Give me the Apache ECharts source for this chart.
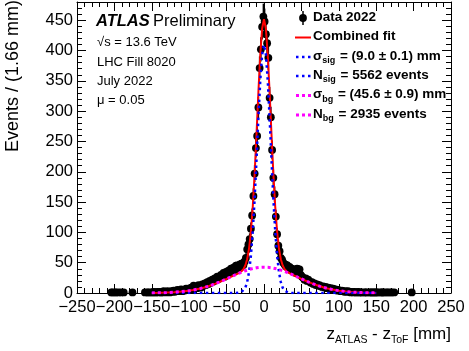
<!DOCTYPE html>
<html><head><meta charset="utf-8">
<script src="https://cdn.jsdelivr.net/npm/echarts@6/dist/echarts.min.js"></script>
<style>html,body{margin:0;padding:0;background:#fff}#c{width:469px;height:351px}</style>
</head><body><div id="c"></div>
<script>
// Histogram definition (300 bins of 1.66 mm from -250 to 250)
const binLow = -250;
const binWidth = 500 / 300;
const firstBin = 27;
// Events per bin, starting at bin index firstBin (null = empty bin, not drawn)
const dataCounts = [
  1,1,null,1,1,null,1,null,1,null,1,null,null,null,null,null,null,1,
  null,null,null,null,null,null,null,null,null,1,null,1,1,null,1,
  1,2,1,1,2,1,2,1,1,3,
  2,1,3,2,1,3,2,4,2,3,
  5,3,4,6,3,5,4,7,5,6,
  8,5,9,12,7,10,8,13,11,9,
  14,12,16,13,18,15,20,17,22,19,
  24,21,27,23,26,30,28,33,27,35,
  31,37,34,40,36,42,38,45,41,44,
  47,43,49,46,52,58,72,80,89,106,
  128,160,197,239,259,306,371,402,439,456,
  448,427,412,388,322,290,236,190,163,126,
  97,78,69,58,55,50,47,44,46,41,
  43,38,40,35,37,33,40,38,39,30,
  27,25,22,24,20,22,19,17,18,15,
  16,13,14,12,13,11,10,11,9,10,
  8,9,7,8,6,7,5,6,4,5,
  4,3,4,3,2,3,2,3,2,1,
  2,1,2,1,1,2,1,1,1,null,
  1,1,1,null,1,1,1,1,1,1,
  1,1,null,1,1,1,1,null,1,1,
  null,1,1,null,1,
  null,null,null,null,null,null,null,null,null,null,null,null,null,
  1
];
// Fit curves sampled (mm) and their heights (events / bin)
const fitX = [-150,-140,-130,-120,-110,-100,-95,-90,-85,-80,-75,-70,-65,-60,-55,-50,-45,-40,-37.5,-35,-32.5,-30,-27.5,-25,-22.5,-20,-17.5,-15,-12.5,-10,-7.5,-5,-2.5,0,
  2.5,5,7.5,10,12.5,15,17.5,20,22.5,25,27.5,30,32.5,35,37.5,40,45,50,55,60,65,70,75,80,85,90,95,100,110,120,130,140,150];
const fitTotal = [0.19,0.38,0.73,1.34,2.32,3.85,4.86,6.07,7.5,9.14,11.0,13.1,15.4,17.9,20.6,23.35,26.1,29.0,30.5,31.9,33.7,35.9,39.4,45.3,55.7,73.4,101.4,142.5,197.0,262.3,331.2,393.0,436.2,451.8,
  436.2,393.0,331.2,262.3,197.0,142.5,101.4,73.4,55.7,45.3,39.4,35.9,33.7,31.9,30.5,29.0,26.1,23.35,20.6,17.9,15.4,13.1,11.0,9.14,7.5,6.07,4.86,3.85,2.32,1.34,0.73,0.38,0.19];
const fitSig = [0,0,0,0,0,0,0,0,0,0,0,0,0,0,0,0,0,0.02,0.07,0.21,0.6,1.58,3.84,8.65,18.0,34.7,61.8,102.1,156.0,220.7,289.2,350.7,393.7,409.2,
  393.7,350.7,289.2,220.7,156.0,102.1,61.8,34.7,18.0,8.65,3.84,1.58,0.6,0.21,0.07,0.02,0,0,0,0,0,0,0,0,0,0,0,0,0,0,0,0,0];
const fitBg = [0.19,0.38,0.73,1.34,2.32,3.85,4.86,6.07,7.5,9.14,11.0,13.1,15.4,17.9,20.6,23.35,26.1,29.0,30.38,31.73,33.06,34.32,35.52,36.66,37.72,38.69,39.58,40.36,41.03,41.59,42.03,42.34,42.54,42.6,
  42.54,42.34,42.03,41.59,41.03,40.36,39.58,38.69,37.72,36.66,35.52,34.32,33.06,31.73,30.38,29.0,26.1,23.35,20.6,17.9,15.4,13.1,11.0,9.14,7.5,6.07,4.86,3.85,2.32,1.34,0.73,0.38,0.19];
// Axis ranges
const xMin = -250, xMax = 250, xStep = 50;
const yMin = 0, yMax = 480, yStep = 50;

const FONT = '"Liberation Sans", Arial, Helvetica, sans-serif';
const dataPoints = [];
dataCounts.forEach((n, k) => {
  if (n !== null) dataPoints.push([binLow + (firstBin + k + 0.5) * binWidth, n, Math.sqrt(n)]);
});
const pair = (xs, ys) => xs.map((x, i) => [x, ys[i]]);

const chart = echarts.init(document.getElementById('c'), null, {renderer: 'canvas'});
const tickCommon = {
  axisLine: {show: true, onZero: false, lineStyle: {color: '#000', width: 1}},
  axisTick: {show: true, inside: true, length: 9, lineStyle: {color: '#000', width: 1}},
  minorTick: {show: true, splitNumber: 5, length: 5, lineStyle: {color: '#000', width: 1}},
  splitLine: {show: false}, minorSplitLine: {show: false}
};
const minus = v => String(v).replace('-', '\u2212');
const subRich = (size, bold) => ({
  m: {fontFamily: FONT, fontSize: size, fontWeight: bold ? 'bold' : 'normal', fill: '#000', verticalAlign: 'top', lineHeight: size + 3},
  s: {fontFamily: FONT, fontSize: Math.round(size * 0.7), fontWeight: bold ? 'bold' : 'normal', fill: '#000', verticalAlign: 'bottom', lineHeight: 9, padding: [0, 1, 0, 0]}
});
chart.setOption({
  animation: false,
  backgroundColor: '#fff',
  grid: {left: 77, right: 18, top: 2, bottom: 58, containLabel: false},
  xAxis: [
    Object.assign({type: 'value', min: xMin, max: xMax, interval: xStep, position: 'bottom',
      axisLabel: {show: true, color: '#000', fontSize: 16.5, fontFamily: FONT, margin: 6, formatter: minus}}, tickCommon),
    Object.assign({type: 'value', min: xMin, max: xMax, interval: xStep, position: 'top',
      axisLabel: {show: false}}, tickCommon)
  ],
  yAxis: [
    Object.assign({type: 'value', min: yMin, max: yMax, interval: yStep, position: 'left',
      axisLabel: {show: true, color: '#000', fontSize: 16.5, fontFamily: FONT, margin: 4,
        formatter: v => (v % 50 === 0 && v <= 450) ? String(v) : ''}}, tickCommon),
    Object.assign({type: 'value', min: yMin, max: yMax, interval: yStep, position: 'right',
      axisLabel: {show: false}}, tickCommon)
  ],
  series: [
    {
      type: 'custom', name: 'Data 2022', xAxisIndex: 0, yAxisIndex: 0, z: 2,
      data: dataPoints, encode: {x: 0, y: 1},
      renderItem: function (params, api) {
        const x = api.value(0), y = api.value(1), e = api.value(2);
        const p = api.coord([x, y]);
        const lo = api.coord([x, Math.max(0, y - e)]);
        const hi = api.coord([x, y + e]);
        return {type: 'group', children: [
          {type: 'line', shape: {x1: p[0], y1: lo[1], x2: p[0], y2: hi[1]}, style: {stroke: '#000', lineWidth: 1.5}},
          {type: 'circle', shape: {cx: p[0], cy: p[1], r: 3.9}, style: {fill: '#000'}}
        ]};
      }
    },
    {type: 'line', name: 'Combined fit', data: pair(fitX, fitTotal), showSymbol: false, z: 3,
      lineStyle: {color: '#ff0000', width: 2}, smooth: false},
    {type: 'line', name: 'sig', data: pair(fitX, fitSig), showSymbol: false, z: 4,
      lineStyle: {color: '#0000ff', width: 2.5, type: [2.5, 3.5]}},
    {type: 'line', name: 'bg', data: pair(fitX, fitBg), showSymbol: false, z: 5,
      lineStyle: {color: '#ff00ff', width: 3, type: [3, 3]}}
  ],
  graphic: [
    {type: 'text', left: 96, top: 13, style: {text: '{a|ATLAS} {b|Preliminary}', rich: {
      a: {fontFamily: FONT, fontSize: 16.5, fontWeight: 'bold', fontStyle: 'italic', fill: '#000'},
      b: {fontFamily: FONT, fontSize: 16.5, fill: '#000'}}}},
    {type: 'text', left: 97, top: 36, style: {text: '\u221As = 13.6 TeV', font: '13px ' + FONT, fill: '#000'}},
    {type: 'text', left: 97, top: 56, style: {text: 'LHC Fill 8020', font: '13px ' + FONT, fill: '#000'}},
    {type: 'text', left: 97, top: 75, style: {text: 'July 2022', font: '13px ' + FONT, fill: '#000'}},
    {type: 'text', left: 97, top: 94, style: {text: '\u03BC = 0.05', font: '13px ' + FONT, fill: '#000'}},
    // legend
    {type: 'line', shape: {x1: 303, y1: 11, x2: 303, y2: 25}, style: {stroke: '#000', lineWidth: 1.5}},
    {type: 'circle', shape: {cx: 303, cy: 18, r: 3.9}, style: {fill: '#000'}},
    {type: 'line', shape: {x1: 295, y1: 37.5, x2: 311, y2: 37.5}, style: {stroke: '#ff0000', lineWidth: 2}},
    {type: 'line', shape: {x1: 296, y1: 57, x2: 311, y2: 57}, style: {stroke: '#0000ff', lineWidth: 2.5, lineDash: [2.5, 3.5]}},
    {type: 'line', shape: {x1: 296, y1: 76, x2: 311, y2: 76}, style: {stroke: '#0000ff', lineWidth: 2.5, lineDash: [2.5, 3.5]}},
    {type: 'line', shape: {x1: 296, y1: 95.5, x2: 311, y2: 95.5}, style: {stroke: '#ff00ff', lineWidth: 3, lineDash: [3, 3]}},
    {type: 'line', shape: {x1: 296, y1: 115, x2: 311, y2: 115}, style: {stroke: '#ff00ff', lineWidth: 3, lineDash: [3, 3]}},
    {type: 'text', left: 313, top: 10, style: {text: 'Data 2022', font: 'bold 13.5px ' + FONT, fill: '#000'}},
    {type: 'text', left: 313, top: 29.5, style: {text: 'Combined fit', font: 'bold 13.5px ' + FONT, fill: '#000'}},
    {type: 'text', left: 313, top: 49, style: {text: '{m|\u03C3}{s|sig}{m| = (9.0 \u00B1 0.1) mm}', rich: subRich(13.5, true)}},
    {type: 'text', left: 313, top: 68, style: {text: '{m|N}{s|sig}{m| = 5562 events}', rich: subRich(13.5, true)}},
    {type: 'text', left: 313, top: 87.5, style: {text: '{m|\u03C3}{s|bg}{m| = (45.6 \u00B1 0.9) mm}', rich: subRich(13.5, true)}},
    {type: 'text', left: 313, top: 107, style: {text: '{m|N}{s|bg}{m| = 2935 events}', rich: subRich(13.5, true)}},
    // axis titles
    {type: 'text', x: 13, y: 0, rotation: Math.PI / 2, style: {text: 'Events / (1.66 mm)', font: '18px ' + FONT, fill: '#000', align: 'right', verticalAlign: 'middle'}},
    {type: 'text', right: 18, top: 326, style: {text: '{m|z}{s|ATLAS}{m| - z}{s|ToF}{m| [mm]}', rich: {
      m: {fontFamily: FONT, fontSize: 17, fill: '#000', verticalAlign: 'top', lineHeight: 20},
      s: {fontFamily: FONT, fontSize: 10.5, fill: '#000', verticalAlign: 'bottom', lineHeight: 11}}}}
  ]
});
</script></body></html>
